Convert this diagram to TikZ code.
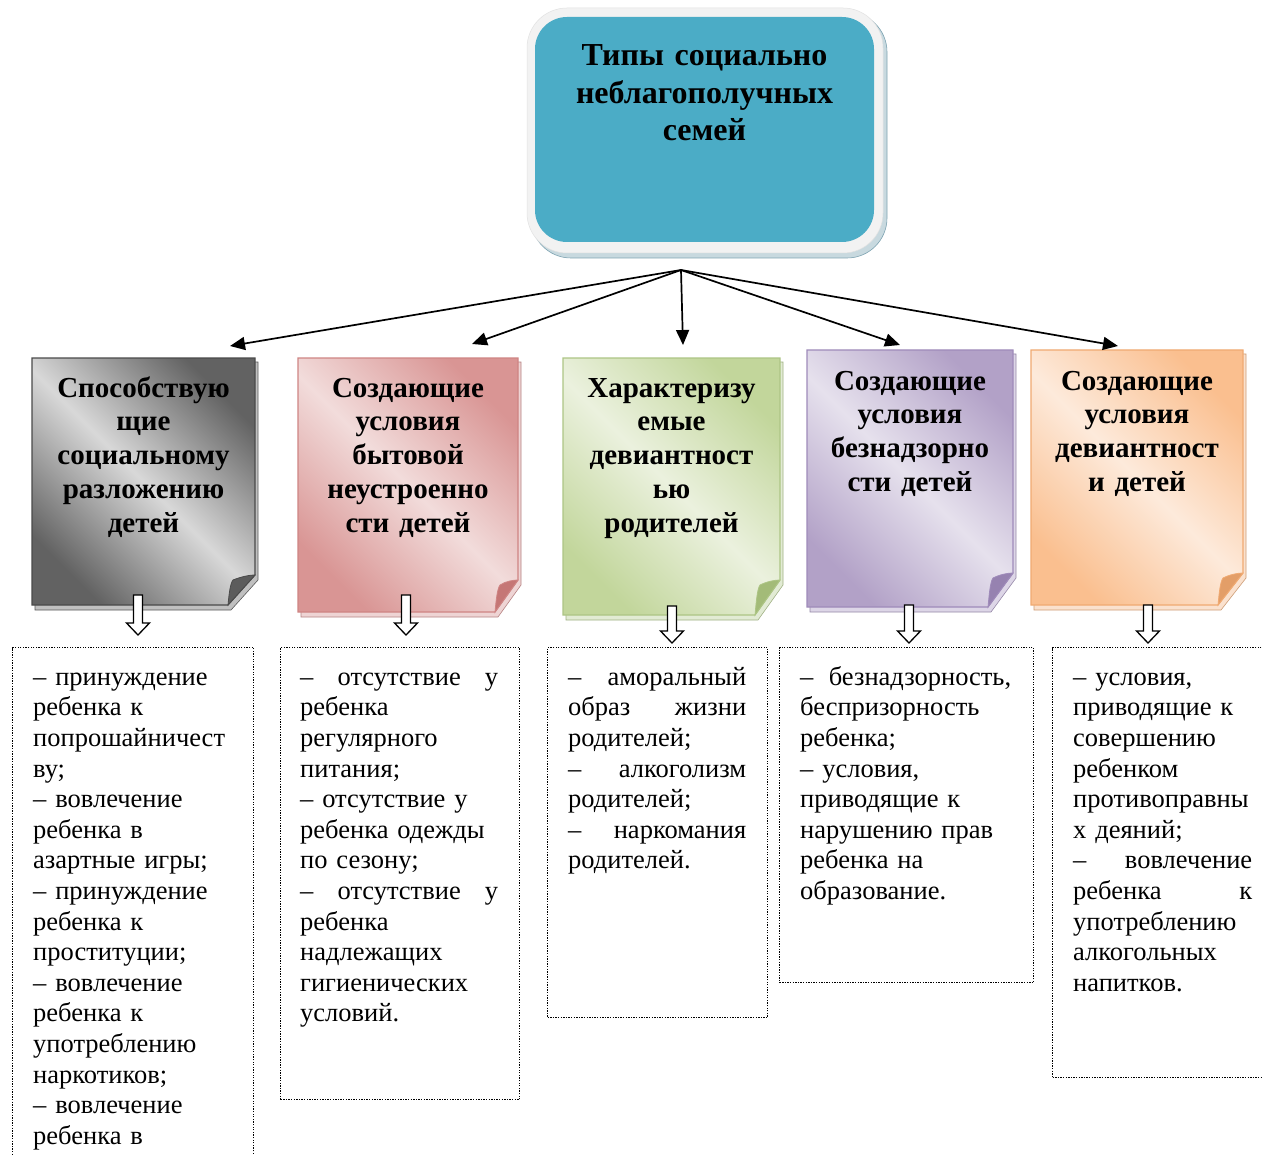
\documentclass[tikz,border=0pt]{standalone}
\usepackage{fontspec}
\setmainfont{Liberation Serif}
\usetikzlibrary{arrows.meta,calc}

\definecolor{Ad}{HTML}{626262}\definecolor{Al}{HTML}{D8D8D8}\definecolor{Ab}{HTML}{4A4A4A}\definecolor{Af}{HTML}{5C5C5C}
\definecolor{Bd}{HTML}{D99594}\definecolor{Bl}{HTML}{F2DCDB}\definecolor{Bb}{HTML}{CF8584}\definecolor{Bf}{HTML}{C57675}
\definecolor{Cd}{HTML}{C2D69B}\definecolor{Cl}{HTML}{EBF1DE}\definecolor{Cb}{HTML}{ADC585}\definecolor{Cf}{HTML}{A3BB78}
\definecolor{Dd}{HTML}{B2A1C7}\definecolor{Dl}{HTML}{E6E1ED}\definecolor{Db}{HTML}{9F8BBA}\definecolor{Df}{HTML}{9682B0}
\definecolor{Ed}{HTML}{FABF8F}\definecolor{El}{HTML}{FDEADB}\definecolor{Eb}{HTML}{F0AA72}\definecolor{Ef}{HTML}{E39E68}
\definecolor{tealbox}{HTML}{4BACC6}
\definecolor{frame}{HTML}{F2F2F2}
\definecolor{tshadow}{HTML}{C8D9DF}
\definecolor{tshadowb}{HTML}{7FA4B2}

\newcommand\dogpage[8]{%
  \fill[fill=#8b!35!white, draw=#8b!70!gray, line width=0.6]
     ({#2+3},{#3+4}) -- ({#4+3},{#3+4}) -- ({#4+3},{#5-#7+5}) -- ({#4-#6+3},{#5+5}) -- ({#2+3},{#5+5}) -- cycle;
  \path[draw=#8b, line width=1.2, left color=#8d, right color=#8d, middle color=#8l, shading angle=135]
     (#2,#3) -- (#4,#3) -- (#4,{#5-#7}) -- ({#4-#6},#5) -- (#2,#5) -- cycle;
  \path[fill=#8f, draw=#8b, line width=0.8]
     ({#4-#6},#5) .. controls ({#4-#6+1},{#5-10}) and ({#4-#6+2},{#5-#7+9}) .. ({#4-#6+5},{#5-#7+5})
     .. controls ({#4-12},{#5-#7+1}) and ({#4-4},{#5-#7}) .. (#4,{#5-#7}) -- cycle;
  \node[inner sep=0, minimum width={#4-#2}, minimum height={#5-#3}] (#1) at ({(#2+#4)/2},{(#3+#5)/2}) {};
}
\newcommand\hollowdown[3]{%
  \draw[harrow] ({#1-4.5},#2) -- ({#1-4.5},{#3-12}) -- ({#1-11.5},{#3-12}) -- (#1,#3)
     -- ({#1+11.5},{#3-12}) -- ({#1+4.5},{#3-12}) -- ({#1+4.5},#2) -- cycle;
}
\newcommand\jl[2]{\leavevmode\hbox to #1pt{#2}}

\begin{document}
\begin{tikzpicture}[x=1pt,y=-1pt,
  head/.style={align=center, text width=215, inner sep=0, anchor=north,
     font=\bfseries\fontsize{29}{33.75}\selectfont},
  toptext/.style={align=center, text width=330, inner sep=0, anchor=north,
     font=\bfseries\fontsize{32}{37.5}\selectfont},
  listtext/.style={align=left, inner sep=0, anchor=north west,
     font=\fontsize{26.5}{30.6}\selectfont},
  dotbox/.style={draw=black, line width=1.3, dash pattern=on 1.3pt off 1.3pt, inner sep=0, anchor=north west},
  conn/.style={line width=1.7, -{Triangle[length=15pt,width=13pt]}},
  harrow/.style={draw=black, fill=white, line width=1.3}
]
\useasboundingbox (0,0) rectangle (1263,1155);
\clip (0,0) rectangle (1263,1155);
\fill[white] (0,0) rectangle (1263,1155);

% top box
\fill[fill=tshadow, draw=tshadowb, line width=0.6, rounded corners=40] (531,12) rectangle (887,258);
\fill[fill=frame, draw=frame!85!gray, line width=0.5, rounded corners=40] (527,8) rectangle (883,253);
\fill[fill=tealbox, rounded corners=32] (535,17) rectangle (874,242);
\node[toptext] (top) at (704.5,40.5) {\rule{0pt}{25pt}Типы социально\\неблагополучных\\семей};

% pages
\dogpage{p1}{32}{358}{255}{605}{27}{30}{A}
\dogpage{p2}{298}{358}{518}{612}{23}{32}{B}
\dogpage{p3}{563}{358}{780}{615}{25}{35}{C}
\dogpage{p4}{807}{350}{1013}{607}{25}{34}{D}
\dogpage{p5}{1031}{350}{1243}{605}{25}{32}{E}

\node[head] (h1) at (143.5,374) {\rule{0pt}{23pt}Способствую\\щие\\социальному\\разложению\\детей};
\node[head] (h2) at (408,374) {\rule{0pt}{23pt}Создающие\\условия\\бытовой\\неустроенно\\сти детей};
\node[head] (h3) at (671.5,374) {\rule{0pt}{23pt}Характеризу\\емые\\девиантност\\ью\\родителей};
\node[head] (h4) at (910,367) {\rule{0pt}{23pt}Создающие\\условия\\безнадзорно\\сти детей};
\node[head] (h5) at (1137,367) {\rule{0pt}{23pt}Создающие\\условия\\девиантност\\и детей};

% connectors
\coordinate (hub) at (681,270);
\coordinate (e1) at (230,346);
\coordinate (e2) at (472,344);
\coordinate (e3) at (683,345);
\coordinate (e4) at (900,345);
\coordinate (e5) at (1118,346);
\foreach \e in {e1,e2,e3,e4,e5} \draw[conn] (hub) -- (\e);

% dotted boxes
\node[dotbox, minimum width=241, minimum height=520] (b1) at (12,647) {};
\node[dotbox, minimum width=239, minimum height=452] (b2) at (280,647) {};
\node[dotbox, minimum width=220, minimum height=370] (b3) at (547,647) {};
\node[dotbox, minimum width=254, minimum height=335] (b4) at (779,647) {};
\node[dotbox, minimum width=230, minimum height=430] (b5) at (1052,647) {};

% hollow arrows
\hollowdown{138}{595}{635}
\hollowdown{406}{595}{635}
\hollowdown{672}{606}{643}
\hollowdown{909}{605}{643}
\hollowdown{1148}{605}{643}

% list texts
\node[listtext, text width=200] (l1) at (33,664) {\rule{0pt}{21pt}– принуждение\\ребенка к\\попрошайничест\\ву;\\– вовлечение\\ребенка в\\азартные игры;\\– принуждение\\ребенка к\\проституции;\\– вовлечение\\ребенка к\\употреблению\\наркотиков;\\– вовлечение\\ребенка в};
\node[listtext, text width=198] (l2) at (300,664) {\rule{0pt}{21pt}\jl{198}{–\hfill отсутствие\hfill у}\\ребенка\\регулярного\\питания;\\– отсутствие у\\ребенка одежды\\по сезону;\\\jl{198}{–\hfill отсутствие\hfill у}\\ребенка\\надлежащих\\гигиенических\\условий.};
\node[listtext, text width=178] (l3) at (568,664) {\rule{0pt}{21pt}\jl{178}{–\hfill аморальный}\\\jl{178}{образ\hfill жизни}\\родителей;\\\jl{178}{–\hfill алкоголизм}\\родителей;\\\jl{178}{–\hfill наркомания}\\родителей.};
\node[listtext, text width=211] (l4) at (800,664) {\rule{0pt}{21pt}\jl{211}{–\hfill безнадзорность,}\\беспризорность\\ребенка;\\– условия,\\приводящие к\\нарушению прав\\ребенка на\\образование.};
\node[listtext, text width=179] (l5) at (1073,664) {\rule{0pt}{21pt}– условия,\\приводящие к\\совершению\\ребенком\\противоправны\\х деяний;\\\jl{179}{–\hfill вовлечение}\\\jl{179}{ребенка\hfill к}\\употреблению\\алкогольных\\напитков.};
\end{tikzpicture}
\end{document}
